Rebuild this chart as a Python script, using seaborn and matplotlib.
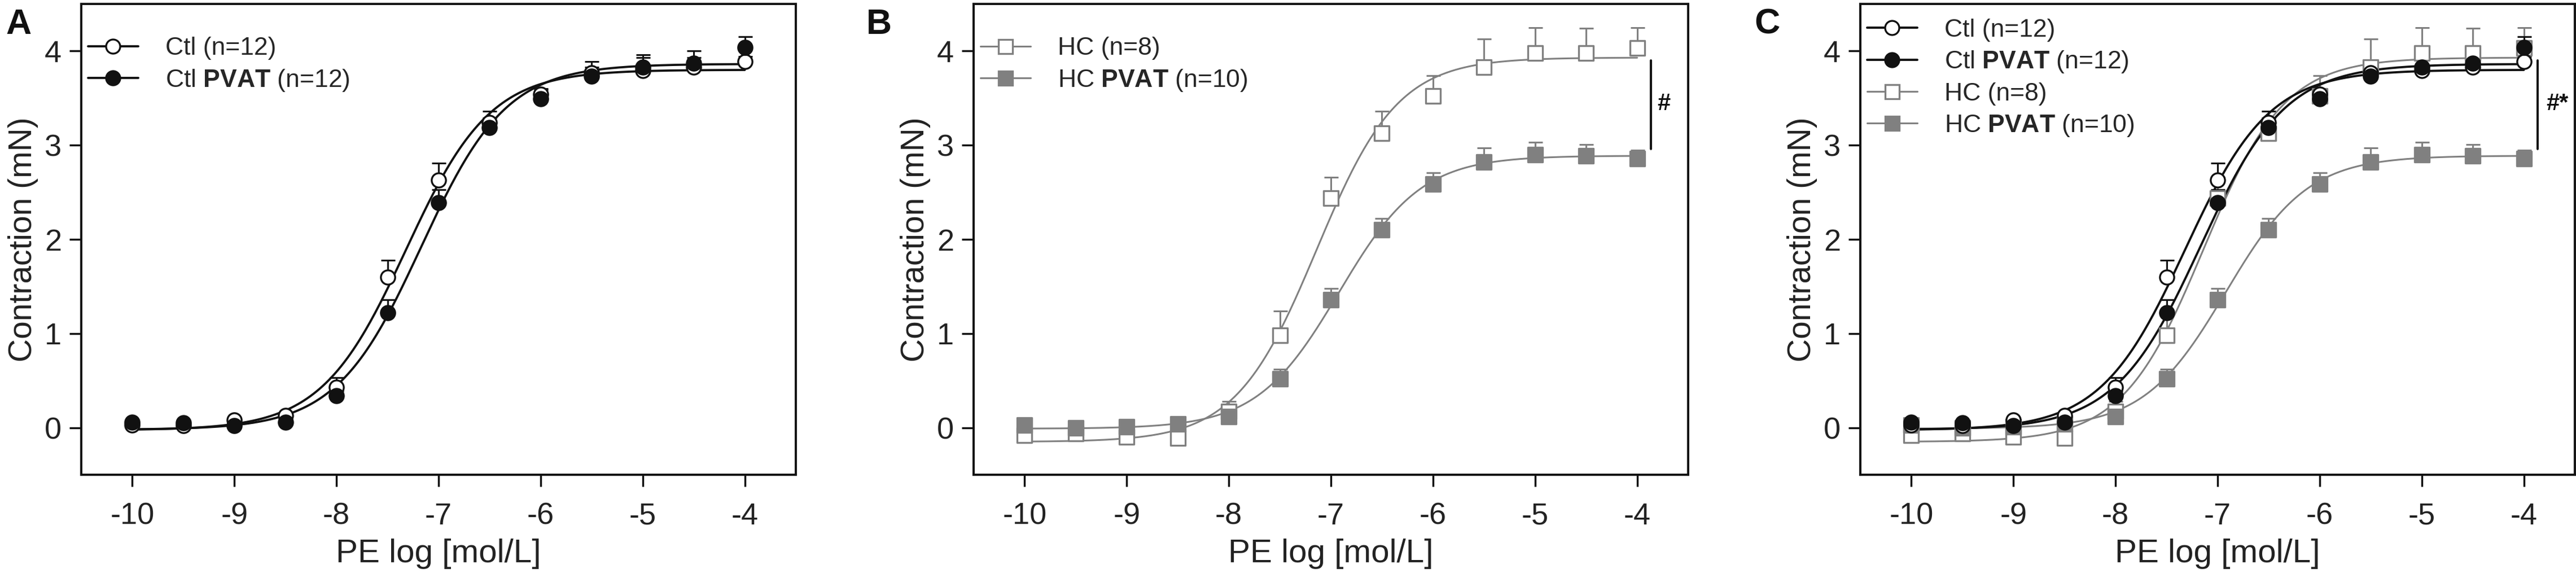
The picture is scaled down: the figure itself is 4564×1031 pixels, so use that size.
import numpy as np
import pandas as pd
import matplotlib
matplotlib.use("Agg")
import matplotlib.pyplot as plt
import seaborn as sns
from matplotlib.lines import Line2D

# PE concentrations (log mol/L)
log_pe = [-10, -9.5, -9, -8.5, -8, -7.5, -7, -6.5, -6, -5.5, -5, -4.5, -4]

# mean contraction (mN) and SEM
ctl_mean = [0.03, 0.02, 0.08, 0.13, 0.43, 1.60, 2.63, 3.24, 3.54, 3.77, 3.79, 3.83, 3.89]
ctl_sem = [0.02, 0.02, 0.02, 0.02, 0.10, 0.18, 0.18, 0.12, 0.06, 0.06, 0.17, 0.10, 0.05]
ctl_pvat_mean = [0.06, 0.05, 0.02, 0.06, 0.34, 1.22, 2.39, 3.19, 3.49, 3.73, 3.83, 3.87, 4.04]
ctl_pvat_sem = [0.02, 0.02, 0.02, 0.02, 0.05, 0.14, 0.14, 0.10, 0.10, 0.16, 0.10, 0.13, 0.11]
hc_mean = [-0.08, -0.06, -0.10, -0.11, 0.17, 0.98, 2.44, 3.13, 3.52, 3.83, 3.98, 3.98, 4.03]
hc_sem = [0.03, 0.03, 0.03, 0.03, 0.11, 0.26, 0.22, 0.23, 0.22, 0.30, 0.27, 0.26, 0.22]
hc_pvat_mean = [0.03, 0.00, 0.01, 0.04, 0.12, 0.52, 1.36, 2.10, 2.59, 2.82, 2.90, 2.89, 2.86]
hc_pvat_sem = [0.02, 0.02, 0.02, 0.02, 0.04, 0.10, 0.12, 0.12, 0.12, 0.15, 0.13, 0.12, 0.09]

labels = {
    "ctl": "Ctl (n=12)",
    "ctl_pvat": r"Ctl $\mathbf{PVAT}$ (n=12)",
    "hc": "HC (n=8)",
    "hc_pvat": r"HC $\mathbf{PVAT}$ (n=10)",
}

sns.set_style("ticks")
plt.rcParams["font.family"] = ["Liberation Sans", "DejaVu Sans"]
plt.rcParams["mathtext.fontset"] = "custom"
plt.rcParams["mathtext.rm"] = "Liberation Sans"
plt.rcParams["mathtext.bf"] = "Liberation Sans:bold"
plt.rcParams["axes.unicode_minus"] = False

BLACK = "#111111"
GRAY = "#808080"

groups = {
    "ctl": (ctl_mean, ctl_sem, "o", False, BLACK, 2.8),
    "ctl_pvat": (ctl_pvat_mean, ctl_pvat_sem, "o", True, BLACK, 2.8),
    "hc": (hc_mean, hc_sem, "s", False, GRAY, 2.2),
    "hc_pvat": (hc_pvat_mean, hc_pvat_sem, "s", True, GRAY, 2.2),
}


def fit_4pl(x, y):
    # least-squares sigmoid fit: grid over logEC50 / hill, bottom & top solved linearly
    x = np.asarray(x, float)
    y = np.asarray(y, float)
    ecs = np.arange(-8.5, -6.0, 0.005)
    best = None
    for h in np.arange(0.5, 2.5, 0.01):
        f = 1 / (1 + 10 ** ((ecs[:, None] - x[None, :]) * h))
        a1, a2 = 1 - f, f
        s11, s12, s22 = (a1 * a1).sum(1), (a1 * a2).sum(1), (a2 * a2).sum(1)
        r1, r2 = (a1 * y).sum(1), (a2 * y).sum(1)
        det = s11 * s22 - s12 ** 2
        b = (s22 * r1 - s12 * r2) / det
        t = (s11 * r2 - s12 * r1) / det
        res = ((b[:, None] * a1 + t[:, None] * a2 - y) ** 2).sum(1)
        i = res.argmin()
        if best is None or res[i] < best[0]:
            best = (res[i], b[i], t[i], ecs[i], h)
    return best[1:]


def draw_group(ax, key):
    mean, sem, marker, filled, color, lw = groups[key]
    bottom, top, ec50, hill = fit_4pl(log_pe, mean)
    xs = np.linspace(min(log_pe), max(log_pe), 400)
    curve = pd.DataFrame({"x": xs, "y": bottom + (top - bottom) / (1 + 10 ** ((ec50 - xs) * hill))})
    ax.errorbar(log_pe, mean, yerr=[np.zeros(len(sem)), sem], fmt="none", ecolor=color,
                elinewidth=2.2, capsize=9, capthick=2.2, zorder=2)
    sns.lineplot(data=curve, x="x", y="y", ax=ax, color=color, lw=lw, sort=False, zorder=3)
    pts = pd.DataFrame({"x": log_pe, "y": mean})
    sns.scatterplot(data=pts, x="x", y="y", ax=ax, marker=marker, s=330,
                    color=color if filled else "white", edgecolor=color, linewidth=2.4, zorder=4)


def legend_handle(key):
    mean, sem, marker, filled, color, lw = groups[key]
    return Line2D([], [], color=color, lw=lw, marker=marker, markersize=18,
                  markerfacecolor=color if filled else "white", markeredgecolor=color,
                  markeredgewidth=2.4)


fig = plt.figure(figsize=(45.64, 10.31), dpi=100)
lefts = [144 / 4564, 1725 / 4564, 3296 / 4564]
panels = [
    ("A", ["ctl", "ctl_pvat"], ["ctl", "ctl_pvat"], 0.930, None),
    ("B", ["hc", "hc_pvat"], ["hc", "hc_pvat"], 0.930, "#"),
    ("C", ["hc", "hc_pvat", "ctl", "ctl_pvat"], ["ctl", "ctl_pvat", "hc", "hc_pvat"], 0.969, "#*"),
]
letter_x = [10, 1535, 3108]

for i, (letter, order, leg_order, leg_top, sig) in enumerate(panels):
    ax = fig.add_axes([lefts[i], 1 - 841 / 1031, 1266 / 4564, 834 / 1031])
    for key in order:
        draw_group(ax, key)
    ax.set_xlim(-10.5, -3.5)
    ax.set_ylim(-0.5, 4.5)
    ax.set_xticks([-10, -9, -8, -7, -6, -5, -4])
    ax.set_yticks([0, 1, 2, 3, 4])
    for sp in ax.spines.values():
        sp.set_linewidth(2.8)
        sp.set_color(BLACK)
    ax.tick_params(axis="both", length=15, width=2.5, labelsize=39, color=BLACK, labelcolor="#222222")
    ax.tick_params(axis="x", pad=20)
    ax.tick_params(axis="y", pad=10)
    ax.set_xlabel("PE log [mol/L]", fontsize=42, labelpad=10, color="#222222")
    ax.set_ylabel("Contraction (mN)", fontsize=41, labelpad=8, color="#222222")
    ax.legend(handles=[legend_handle(k) for k in leg_order], labels=[labels[k] for k in leg_order],
              loc="upper left", bbox_to_anchor=(0.0095, leg_top), frameon=False, fontsize=32,
              handlelength=2.0, handletextpad=1.08, labelspacing=0.3, borderpad=0, borderaxespad=0)
    if sig:
        ax.plot([-3.865, -3.865], [2.96, 3.9], color=BLACK, lw=2.8, zorder=5)
        ax.text(-3.74 if sig == "#" else -3.67, 3.44, sig, fontsize=30, fontweight="bold",
                ha="center", va="center", color=BLACK)
    fig.text(letter_x[i] / 4564, 1 - 14 / 1031, letter, fontsize=45, fontweight="bold",
             ha="left", va="top", color=BLACK)

fig.savefig("out.png", dpi=100, facecolor="white")
